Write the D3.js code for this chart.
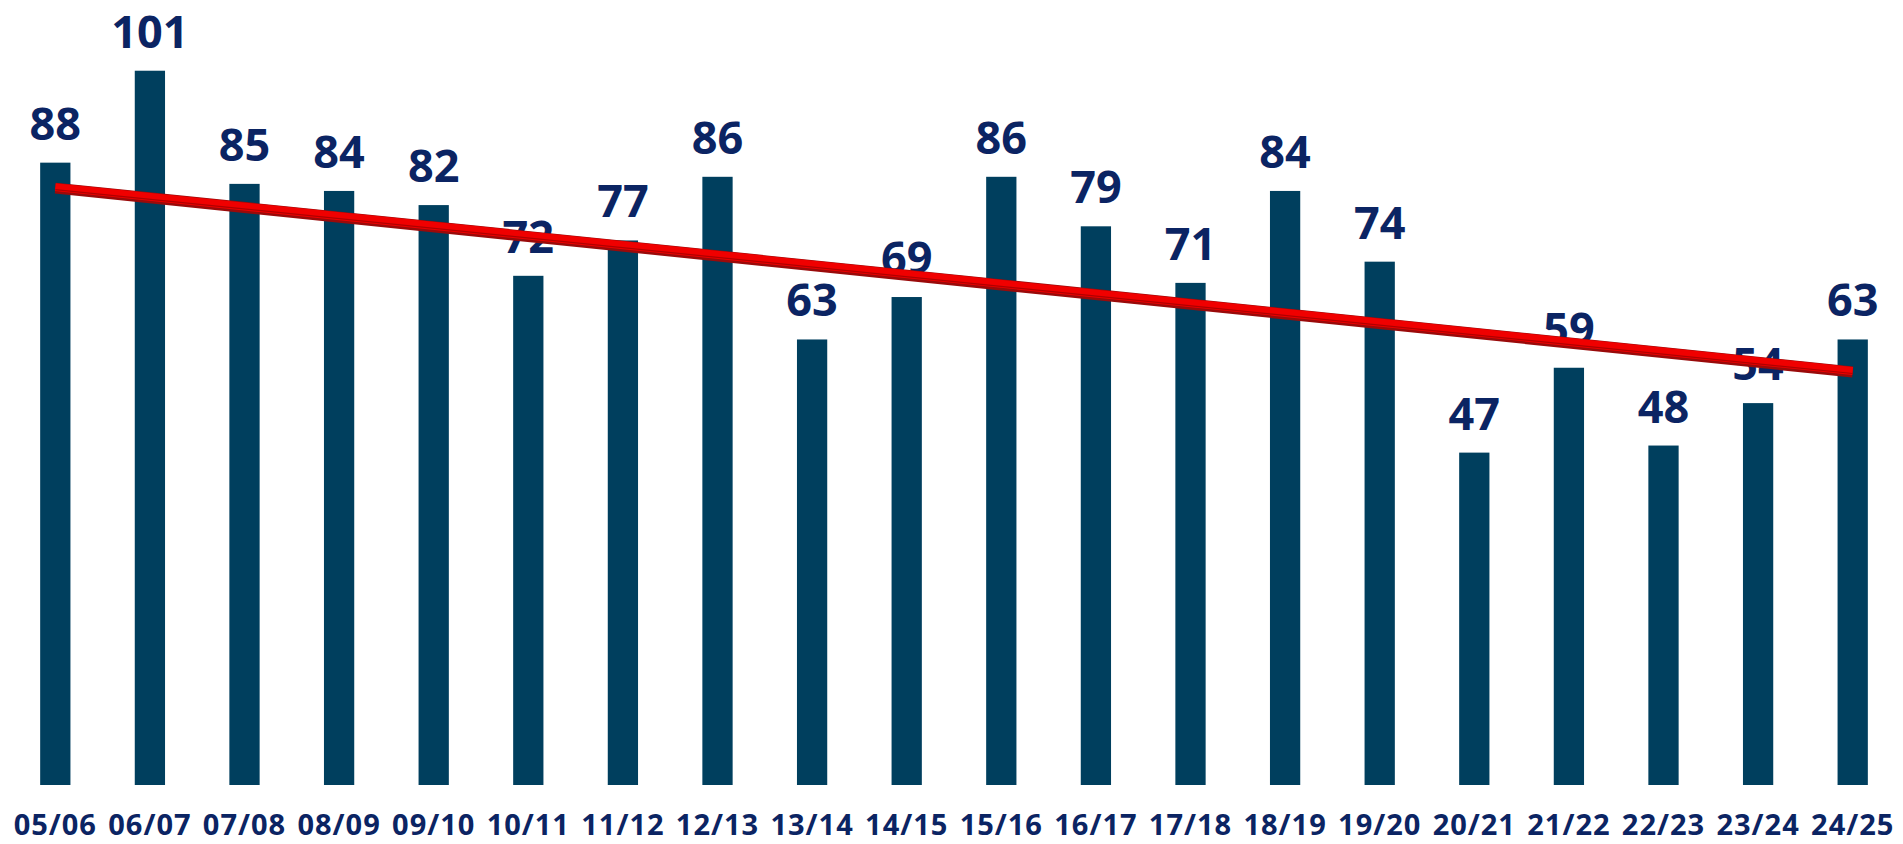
<!DOCTYPE html>
<html>
<head>
<meta charset="utf-8">
<script src="https://cdn.jsdelivr.net/npm/d3@7"></script>
<style>
  html, body { margin: 0; padding: 0; background: #fff; overflow: hidden; }
  svg { display: block; }
</style>
</head>
<body>
<div id="chart"></div>
<script>
  // seasons and values
  const seasons = ["05/06", "06/07", "07/08", "08/09", "09/10", "10/11", "11/12", "12/13", "13/14", "14/15",
                   "15/16", "16/17", "17/18", "18/19", "19/20", "20/21", "21/22", "22/23", "23/24", "24/25"];
  const values = [88, 101, 85, 84, 82, 72, 77, 86, 63, 69, 86, 79, 71, 84, 74, 47, 59, 48, 54, 63];
  // trend line ends (first season, last season)
  const trendSeasons = ["05/06", "24/25"];
  const trendValues = [84.4, 58.4];

  const width = 1903,
    height = 844;

  const barColor = "#003f5e",
    textColor = "#0b2463";

  const data = seasons.map((s, i) => ({ season: s, value: values[i] }));

  const svg = d3.select("#chart")
    .append("svg")
    .attr("width", width)
    .attr("height", height);

  const xScale = d3.scaleBand()
    .domain(seasons)
    .range([8, 1900])
    .paddingInner(0.68)
    .paddingOuter(0.34);

  const yScale = d3.scaleLinear()
    .domain([0, 111])
    .range([785, 0]);

  // bars
  svg.append("g")
    .selectAll("rect")
    .data(data)
    .join("rect")
      .attr("x", d => xScale(d.season))
      .attr("y", d => yScale(d.value))
      .attr("width", xScale.bandwidth())
      .attr("height", d => yScale(0) - yScale(d.value))
      .attr("fill", barColor);

  // value labels
  svg.append("g")
    .selectAll("text")
    .data(data)
    .join("text")
      .attr("x", d => xScale(d.season) + xScale.bandwidth() / 2)
      .attr("y", d => yScale(d.value) - 23)
      .attr("text-anchor", "middle")
      .style("font-family", "'Open Sans', sans-serif")
      .style("font-weight", 700)
      .style("font-size", "45px")
      .attr("fill", textColor)
      .text(d => d.value);

  // category axis
  const xAxis = d3.axisBottom(xScale).tickSize(0).tickPadding(0);
  const gx = svg.append("g")
    .attr("transform", `translate(0,${yScale(0)})`)
    .call(xAxis);
  gx.select(".domain").remove();
  gx.selectAll("text")
    .attr("dy", null)
    .attr("y", 50)
    .style("font-family", "'Open Sans', sans-serif")
    .style("font-weight", 700)
    .style("font-size", "29px")
    .style("letter-spacing", "1px")
    .attr("fill", textColor);

  // trend line
  const trend = trendSeasons.map((s, i) => ({ season: s, value: trendValues[i] }));
  const line = d3.line()
    .x(d => xScale(d.season) + xScale.bandwidth() / 2)
    .y(d => yScale(d.value));

  svg.append("path")
    .datum(trend)
    .attr("d", line)
    .attr("fill", "none")
    .attr("stroke", "#9a0a0a")
    .attr("stroke-width", 11);
  svg.append("path")
    .datum(trend)
    .attr("d", line)
    .attr("transform", "translate(0,-1)")
    .attr("fill", "none")
    .attr("stroke", "#f00000")
    .attr("stroke-width", 8);
  svg.append("path")
    .datum(trend)
    .attr("d", line)
    .attr("transform", "translate(0,1.5)")
    .attr("fill", "none")
    .attr("stroke", "#b00000")
    .attr("stroke-width", 1.2);
</script>
</body>
</html>
